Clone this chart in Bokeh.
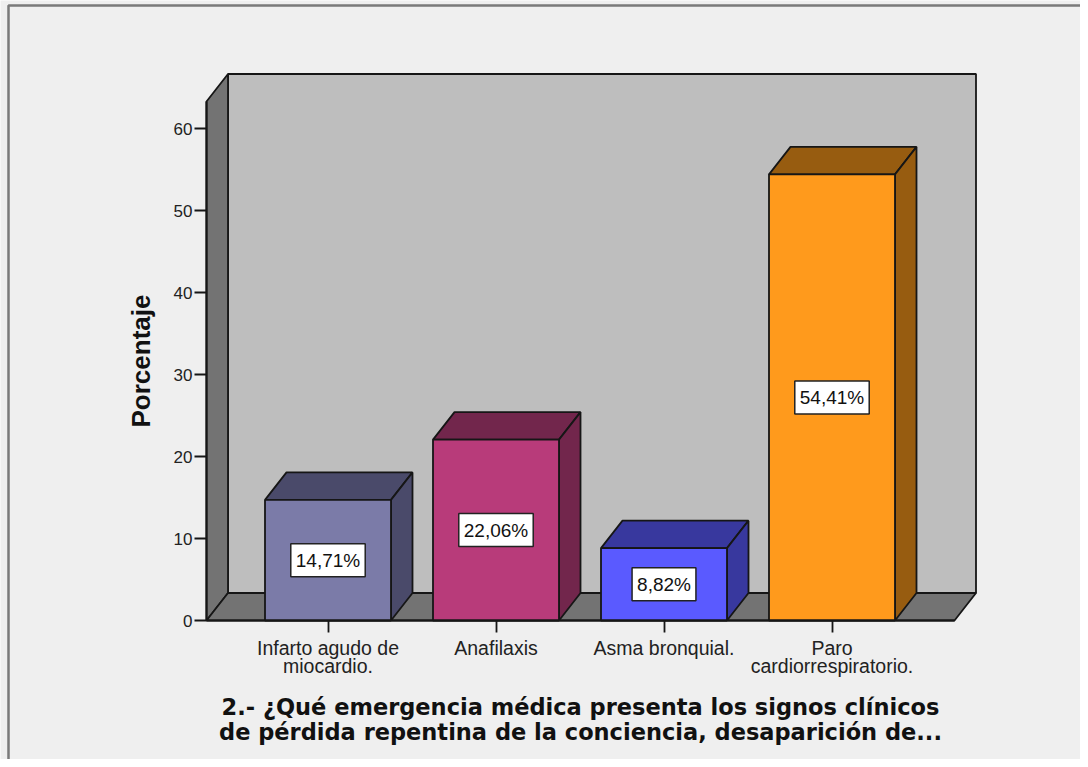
from bokeh.plotting import figure
from bokeh.models import ColumnDataSource, Range1d, FixedTicker
from bokeh.core.properties import value
from bokeh.embed import file_html
from bokeh.resources import INLINE

categories = ["Infarto agudo de\nmiocardio.", "Anafilaxis", "Asma bronquial.", "Paro\ncardiorrespiratorio."]
values = [14.71, 22.06, 8.82, 54.41]
value_labels = ["14,71%", "22,06%", "8,82%", "54,41%"]
front_colors = ["#7b7ba8", "#b83b7a", "#5a5aff", "#ff9a1c"]
dark_colors = ["#4a4a6a", "#72264c", "#38389e", "#975c10"]
y_ticks = [0, 10, 20, 30, 40, 50, 60]
y_title = "Porcentaje"
x_title = "2.- ¿Qué emergencia médica presenta los signos clínicos\nde pérdida repentina de la conciencia, desaparición de..."

W, H = 1080, 759
AXIS_X, BASE_Y = 206, 620
PX_X = 168.0
PX_Y = 8.2
X0 = 327.5
BAR = 126 / PX_X
DX = 21.5 / PX_X
DY = 27.5 / PX_Y
FACE = "#efefef"
INK = "#161616"
LW = 1.8

xs = list(range(len(values)))
x_start = (AXIS_X - X0) / PX_X
floor_w = (954 - AXIS_X) / PX_X
wall_h = (BASE_Y - 101) / PX_Y

p = figure(width=W, height=H, output_backend="svg", toolbar_location=None,
           x_range=Range1d(-X0 / PX_X, (W - X0) / PX_X),
           y_range=Range1d((BASE_Y - H) / PX_Y, BASE_Y / PX_Y),
           min_border_left=0, min_border_right=0, min_border_top=0, min_border_bottom=0,
           background_fill_color=FACE, border_fill_color=FACE, outline_line_color=None)
p.grid.visible = False

# viewer frame, open to the right
p.quad(left=[(8 - X0) / PX_X], right=[(W + 30 - X0) / PX_X], bottom=[(BASE_Y - 765) / PX_Y], top=[(BASE_Y - 5) / PX_Y],
       fill_color=None, line_color="#7a7a7a", line_width=2.5)

# back wall, side wall and floor
p.quad(left=[x_start + DX], right=[x_start + DX + floor_w], bottom=[DY], top=[DY + wall_h],
       fill_color="#bebebe", line_color=INK, line_width=LW)
p.patches([[x_start, x_start + DX, x_start + DX, x_start]],
          [[0, DY, DY + wall_h, wall_h]], fill_color="#737373", line_color=INK, line_width=LW)
p.patches([[x_start, x_start + floor_w, x_start + floor_w + DX, x_start + DX]],
          [[0, 0, DY, DY]], fill_color="#737373", line_color=INK, line_width=LW)

for x, v, fc, dc in zip(xs, values, front_colors, dark_colors):
    l, r = x - BAR / 2, x + BAR / 2
    p.patches([[l, r, r + DX, l + DX]], [[v, v, v + DY, v + DY]], fill_color=dc, line_color=INK, line_width=LW)
    p.patches([[r, r + DX, r + DX, r]], [[0, DY, v + DY, v]], fill_color=dc, line_color=INK, line_width=LW)
    p.quad(left=[l], right=[r], bottom=[0], top=[v], fill_color=fc, line_color=INK, line_width=LW)

src = ColumnDataSource(dict(x=xs, y=[v / 2 for v in values], t=value_labels))
p.text(x="x", y="y", text="t", source=src, text_align="center", text_baseline="middle",
       text_font=value("Liberation Sans"), text_font_size="19px", text_color="#111111",
       background_fill_color="white", border_line_color="#222222", border_line_width=1.5,
       padding=(5, 6))

ya = p.yaxis[0]
ya.fixed_location = x_start
ya.ticker = FixedTicker(ticks=y_ticks)
ya.bounds = (0, wall_h)
ya.axis_label = y_title
ya.axis_label_text_font = "Liberation Sans"
ya.axis_label_text_font_style = "bold"
ya.axis_label_text_font_size = "26px"
ya.axis_label_text_color = "#111111"
ya.axis_label_standoff = 15
ya.major_label_text_font = "Liberation Sans"
ya.major_label_text_font_size = "17px"
ya.major_label_text_color = "#222222"
ya.major_label_standoff = 2
ya.major_tick_out = 12
ya.major_tick_in = 0
ya.minor_tick_line_color = None
ya.major_tick_line_color = INK
ya.major_tick_line_width = LW
ya.axis_line_color = INK
ya.axis_line_width = 2

xa = p.xaxis[0]
xa.fixed_location = 0
xa.ticker = FixedTicker(ticks=xs)
xa.major_label_overrides = {i: c for i, c in enumerate(categories)}
xa.bounds = (x_start, x_start + floor_w)
xa.axis_label = x_title
xa.axis_label_text_font = "DejaVu Sans"
xa.axis_label_text_font_style = "bold"
xa.axis_label_text_font_size = "22.5px"
xa.axis_label_text_line_height = 0.97
xa.axis_label_text_color = "#111111"
xa.axis_label_standoff = 14
xa.major_label_text_font = "Liberation Sans"
xa.major_label_text_font_size = "19.5px"
xa.major_label_text_line_height = 0.85
xa.major_label_text_color = "#222222"
xa.major_label_standoff = 4
xa.major_tick_out = 12
xa.major_tick_in = 0
xa.minor_tick_line_color = None
xa.major_tick_line_color = INK
xa.major_tick_line_width = LW
xa.axis_line_color = INK
xa.axis_line_width = 2

open("out.html", "w").write(file_html(p, INLINE))
